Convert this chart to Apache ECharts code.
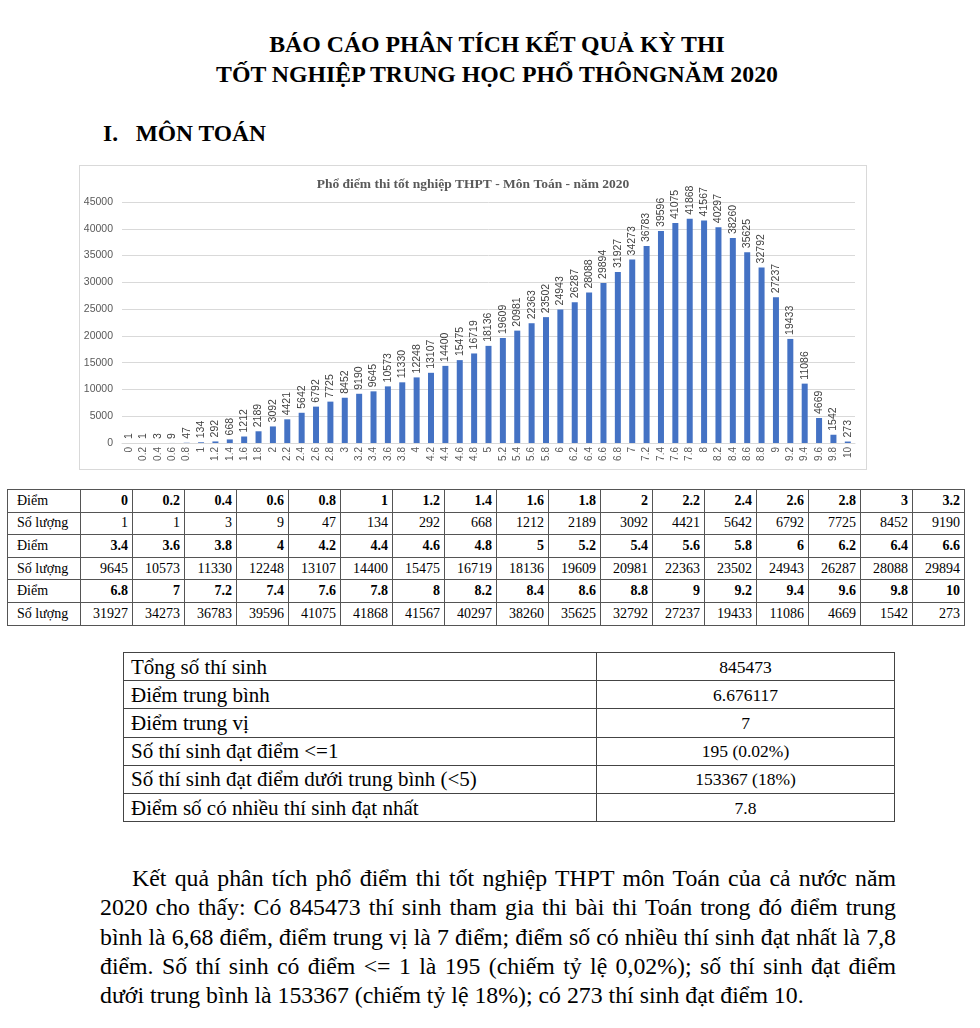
<!DOCTYPE html>
<html>
<head>
<meta charset="utf-8">
<script src="https://cdn.jsdelivr.net/npm/echarts@6/dist/echarts.min.js"></script>
<style>
  html, body { margin:0; padding:0; background:#fff; }
  body { width:980px; height:1028px; position:relative; overflow:hidden; font-family:"Liberation Serif","Times New Roman",serif; color:#000; }
  .h { position:absolute; left:0; width:994px; text-align:center; font-weight:bold; font-size:23.8px; white-space:nowrap; }
  .sec { position:absolute; left:103px; top:120px; font-weight:bold; font-size:23.5px; white-space:nowrap; }
  #chart { position:absolute; left:79px; top:165px; width:788px; height:305px; border:1px solid #d9d9d9; box-sizing:border-box; }
  table { border-collapse:collapse; position:absolute; }
  #t1 { left:7px; top:489px; width:958px; table-layout:fixed; }
  #t1 td { border:1px solid #555; height:22.6px; padding:0 4px; font-size:14px; text-align:right; line-height:14px; box-sizing:border-box; white-space:nowrap; }
  #t1 td.lab { text-align:left; padding-left:9px; }
  #t1 tr.pt td { font-weight:bold; }
  #t1 tr.pt td.lab { font-weight:normal; }
  #t2 { left:123px; top:652px; width:771px; table-layout:fixed; }
  #t2 td { border:1px solid #444; height:28.2px; padding:0 4px; box-sizing:border-box; white-space:nowrap; line-height:20px; }
  #t2 td.k { font-size:21px; text-align:left; padding-left:7px; }
  #t2 td.v { font-size:17.5px; text-align:center; }
  .para { position:absolute; left:100px; width:796px; font-size:23.8px; }
  .ln { height:29.3px; line-height:29.3px; text-align:justify; text-align-last:justify; white-space:nowrap; }
  .ln.last { text-align-last:left; }
</style>
</head>
<body>
<div class="h" style="top:31px">BÁO CÁO PHÂN TÍCH KẾT QUẢ KỲ THI</div>
<div class="h" style="top:61px">TỐT NGHIỆP TRUNG HỌC PHỔ THÔNGNĂM 2020</div>
<div class="sec">I.&nbsp;&nbsp;&nbsp;MÔN TOÁN</div>
<div id="chart"></div>
<table id="t1"></table>
<table id="t2"></table>
<div class="para" id="para" style="top:864px"></div>
<script>
const chartTitle = "Phổ điểm thi tốt nghiệp THPT - Môn Toán - năm 2020";
const scores = ["0","0.2","0.4","0.6","0.8","1","1.2","1.4","1.6","1.8","2","2.2","2.4","2.6","2.8","3","3.2",
  "3.4","3.6","3.8","4","4.2","4.4","4.6","4.8","5","5.2","5.4","5.6","5.8","6","6.2","6.4","6.6",
  "6.8","7","7.2","7.4","7.6","7.8","8","8.2","8.4","8.6","8.8","9","9.2","9.4","9.6","9.8","10"];
const counts = [1,1,3,9,47,134,292,668,1212,2189,3092,4421,5642,6792,7725,8452,9190,
  9645,10573,11330,12248,13107,14400,15475,16719,18136,19609,20981,22363,23502,24943,26287,28088,29894,
  31927,34273,36783,39596,41075,41868,41567,40297,38260,35625,32792,27237,19433,11086,4669,1542,273];
const yTicks = [0,5000,10000,15000,20000,25000,30000,35000,40000,45000];
const statLabels = ["Tổng số thí sinh","Điểm trung bình","Điểm trung vị","Số thí sinh đạt điểm <=1","Số thí sinh đạt điểm dưới trung bình (<5)","Điểm số có nhiều thí sinh đạt nhất"];
const statValues = ["845473","6.676117","7","195 (0.02%)","153367 (18%)","7.8"];
const paraLines = [
  "Kết quả phân tích phổ điểm thi tốt nghiệp THPT môn Toán của cả nước năm",
  "2020 cho thấy: Có 845473 thí sinh tham gia thi bài thi Toán trong đó điểm trung",
  "bình là 6,68 điểm, điểm trung vị là 7 điểm; điểm số có nhiều thí sinh đạt nhất là 7,8",
  "điểm. Số thí sinh có điểm <= 1 là 195 (chiếm tỷ lệ 0,02%); số thí sinh đạt điểm",
  "dưới trung bình là 153367 (chiếm tỷ lệ 18%); có 273 thí sinh đạt điểm 10."
];

const esc = s => s.replace(/&/g,'&amp;').replace(/</g,'&lt;');
// Table 1
(function(){
  const t = document.getElementById('t1');
  let html = '<colgroup><col style="width:73px">' + '<col style="width:52px">'.repeat(17) + '</colgroup>';
  for (let r = 0; r < 3; r++) {
    const s = scores.slice(r*17, r*17+17), c = counts.slice(r*17, r*17+17);
    html += '<tr class="pt"><td class="lab">Điểm</td>' + s.map(v => '<td>' + v + '</td>').join('') + '</tr>';
    html += '<tr><td class="lab">Số lượng</td>' + c.map(v => '<td>' + v + '</td>').join('') + '</tr>';
  }
  t.innerHTML = html;
})();
// Table 2
(function(){
  const t = document.getElementById('t2');
  let html = '<colgroup><col style="width:473px"><col style="width:298px"></colgroup>';
  statLabels.forEach((k, i) => {
    html += '<tr><td class="k">' + esc(k) + '</td><td class="v">' + esc(statValues[i]) + '</td></tr>';
  });
  t.innerHTML = html;
})();
// Paragraph
(function(){
  const p = document.getElementById('para');
  p.innerHTML = paraLines.map((l, i) => {
    const cls = 'ln' + (i === paraLines.length - 1 ? ' last' : '');
    const style = i === 0 ? ' style="padding-left:32px"' : '';
    return '<div class="' + cls + '"' + style + '>' + esc(l) + '</div>';
  }).join('');
})();

const chart = echarts.init(document.getElementById('chart'), null, {renderer:'canvas'});
chart.setOption({
  animation: false,
  title: {
    text: chartTitle, left: 'center', top: 7,
    textStyle: { fontFamily: 'Liberation Serif', fontWeight: 'bold', fontSize: 13.5, color: '#595959' }
  },
  grid: { left: 42, right: 11, top: 36, bottom: 26 },
  xAxis: {
    type: 'category', data: scores,
    axisLine: { lineStyle: { color: '#d9d9d9' } },
    axisTick: { show: false },
    axisLabel: { interval: 0, rotate: 90, fontSize: 10, color: '#595959', fontFamily: 'Liberation Sans', margin: 4 }
  },
  yAxis: {
    type: 'value', min: yTicks[0], max: yTicks[yTicks.length-1], interval: 5000,
    axisLine: { show: false }, axisTick: { show: false },
    axisLabel: { fontSize: 10.5, color: '#595959', fontFamily: 'Liberation Sans', margin: 9, formatter: v => String(v) },
    splitLine: { lineStyle: { color: '#d9d9d9' } }
  },
  series: [{
    type: 'bar', data: counts, barWidth: 6,
    itemStyle: { color: '#4472c4' },
    label: {
      show: true, position: 'top', rotate: 90, align: 'left', verticalAlign: 'middle', distance: 4,
      fontSize: 10.5, color: '#404040', fontFamily: 'Liberation Sans'
    }
  }]
});
</script>
</body>
</html>
